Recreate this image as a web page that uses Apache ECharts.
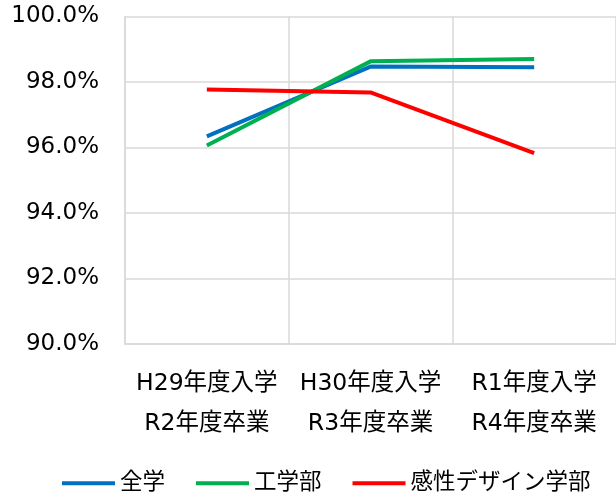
<!DOCTYPE html>
<html><head><meta charset="utf-8">
<script src="https://cdn.jsdelivr.net/npm/echarts@6/dist/echarts.min.js"></script>
<style>html,body{margin:0;padding:0;background:#fff}#c{width:616px;height:497px}</style>
</head><body><div id="c"></div>
<script>
const categories = ['H29年度入学\nR2年度卒業', 'H30年度入学\nR3年度卒業', 'R1年度入学\nR4年度卒業'];
const seriesNames = ['全学', '工学部', '感性デザイン学部'];
const zengaku = [96.34, 98.47, 98.45];
const kougaku = [96.06, 98.63, 98.70];
const kansei = [97.77, 97.68, 95.83];
const yTicks = [90, 92, 94, 96, 98, 100];

const font = '"DejaVu Sans", "Noto Sans CJK JP", sans-serif';
const colors = ['#0070C0', '#00B050', '#FF0000'];
const data = [zengaku, kougaku, kansei];

const chart = echarts.init(document.getElementById('c'));
chart.setOption({
  animation: false,
  grid: { left: 125, right: -4, top: 16.5, bottom: 153 },
  xAxis: {
    type: 'category', data: categories, boundaryGap: true,
    axisLine: { lineStyle: { color: '#d9d9d9', width: 1.5 } },
    axisTick: { show: false },
    splitLine: { show: true, lineStyle: { color: '#d9d9d9', width: 1.5 } },
    axisLabel: { fontFamily: font, fontSize: 23.5, color: '#000', lineHeight: 40, margin: 20, interval: 0 }
  },
  yAxis: {
    type: 'value', min: yTicks[0], max: yTicks[yTicks.length - 1], interval: 2,
    axisLine: { show: true, lineStyle: { color: '#d9d9d9', width: 1.5 } },
    axisTick: { show: false },
    splitLine: { lineStyle: { color: '#d9d9d9', width: 1.5 } },
    axisLabel: { fontFamily: font, fontSize: 23, color: '#000', margin: 26, formatter: v => v.toFixed(1) + '%' }
  },
  legend: {
    left: 57, top: 467, icon: 'rect', itemWidth: 53, itemHeight: 4, itemGap: 31,
    textStyle: { fontFamily: font, fontSize: 22.5, color: '#000' },
    data: seriesNames
  },
  series: seriesNames.map((n, i) => ({
    name: n, type: 'line', data: data[i], symbol: 'none',
    lineStyle: { color: colors[i], width: 4 }, itemStyle: { color: colors[i] }
  }))
});
</script></body></html>
